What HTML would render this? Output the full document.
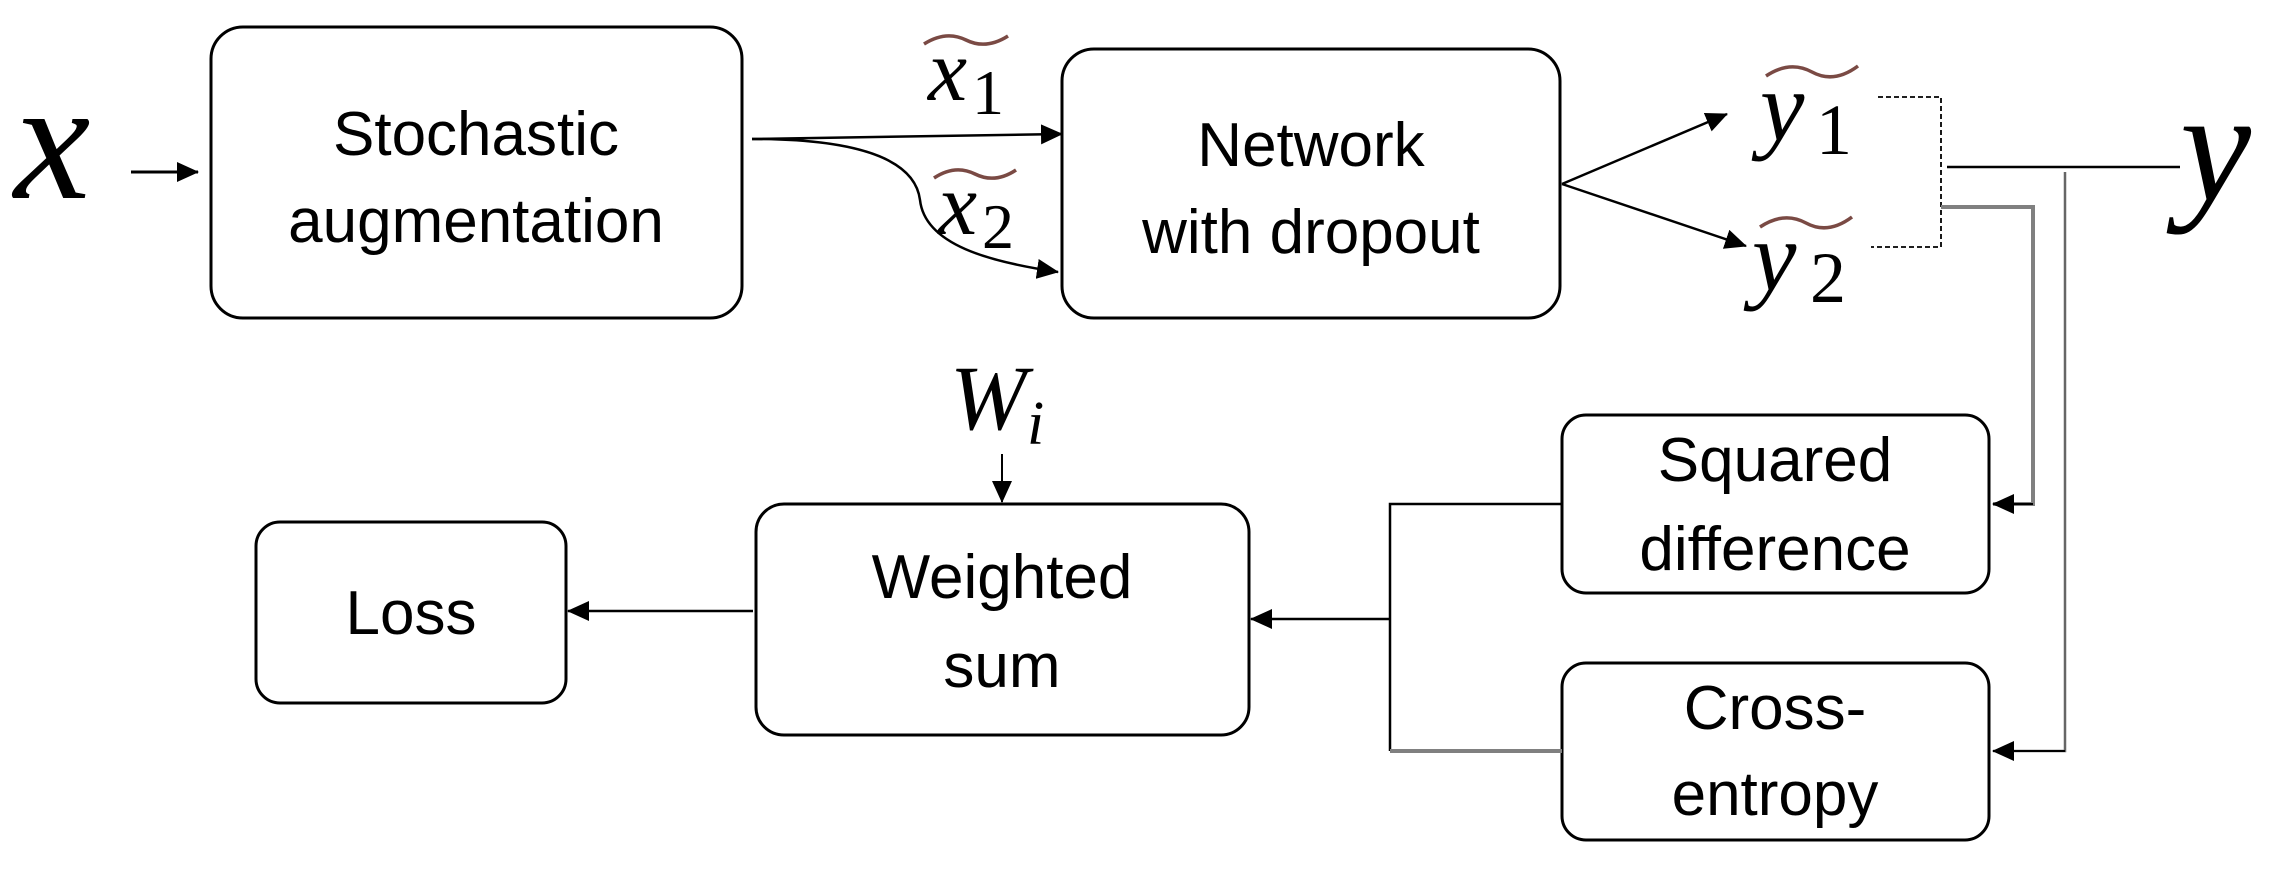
<!DOCTYPE html>
<html><head><meta charset="utf-8"><style>
html,body{margin:0;padding:0;background:#fff;}
svg{display:block;}
.t{font-family:"Liberation Sans",sans-serif;font-size:62px;fill:#000;text-anchor:middle;}
.m{font-family:"Liberation Serif",serif;font-style:italic;fill:#000;}
.s{font-family:"Liberation Serif",serif;fill:#000;}
</style></head><body>
<svg width="2279" height="874" viewBox="0 0 2279 874" xmlns="http://www.w3.org/2000/svg">
<defs>
<marker id="b" markerWidth="22" markerHeight="20" refX="21" refY="10" orient="auto" markerUnits="userSpaceOnUse" viewBox="0 0 22 20">
<path d="M0,0 L22,10 L0,20 z" fill="#000"/></marker>
</defs>
<g fill="none" stroke="#000" stroke-width="3">
<rect x="211" y="27" width="531" height="291" rx="32"/>
<rect x="1062" y="49" width="498" height="269" rx="32"/>
<rect x="256" y="522" width="310" height="181" rx="24"/>
<rect x="756" y="504" width="493" height="231" rx="28"/>
<rect x="1562" y="415" width="427" height="178" rx="24"/>
<rect x="1562" y="663" width="427" height="177" rx="24"/>
<line x1="131" y1="172" x2="198" y2="172" marker-end="url(#b)"/>
<line x1="752" y1="139" x2="1062" y2="134" marker-end="url(#b)" stroke-width="2.5"/>
<path d="M752,139 C860,139 915,160 920,200 C925,245 990,262 1058,272" marker-end="url(#b)" stroke-width="2.5"/>
<line x1="1562" y1="184" x2="1727" y2="114" marker-end="url(#b)" stroke-width="2.5"/>
<line x1="1562" y1="184" x2="1746" y2="246" marker-end="url(#b)" stroke-width="2.5"/>
<path d="M1878,97 H1941 V247 H1871" stroke-width="1.8" stroke-dasharray="5,3"/>
<line x1="1947" y1="167" x2="2180" y2="167" stroke-width="2.5"/>
<path d="M1941,207 H2033 V504 H1993" stroke="#808080" stroke-width="4"/>
<path d="M2033,504 H1993" marker-end="url(#b)" stroke-width="2"/>
<path d="M2065,172 V751 H1993" stroke="#666" stroke-width="2.5"/>
<path d="M2065,751 H1993" marker-end="url(#b)" stroke-width="2"/>
<path d="M1562,504 H1390 V751" stroke-width="2.5"/>
<path d="M1390,751 H1562" stroke="#808080" stroke-width="4"/>
<line x1="1390" y1="619" x2="1251" y2="619" marker-end="url(#b)" stroke-width="2.5"/>
<line x1="1002" y1="454" x2="1002" y2="502" marker-end="url(#b)" stroke-width="2"/>
<line x1="753" y1="611" x2="568" y2="611" marker-end="url(#b)" stroke-width="2.5"/>
</g>
<g fill="none" stroke="#7a4a44" stroke-width="3.5">
<path d="M924,44 Q946,30 966,40 T1008,36"/>
<path d="M934,178 Q955,164 975,174 T1016,170"/>
<path d="M1766,76 Q1790,60 1812,72 T1858,66"/>
<path d="M1760,227 Q1784,211 1806,223 T1852,217"/>
</g>
<text class="t" x="476" y="155">Stochastic</text>
<text class="t" x="476" y="242">augmentation</text>
<text class="t" x="1311" y="166">Network</text>
<text class="t" x="1311" y="253">with dropout</text>
<text class="t" x="1775" y="481">Squared</text>
<text class="t" x="1775" y="570">difference</text>
<text class="t" x="1775" y="729">Cross-</text>
<text class="t" x="1775" y="815">entropy</text>
<text class="t" x="1002" y="598">Weighted</text>
<text class="t" x="1002" y="687">sum</text>
<text class="t" x="411" y="634">Loss</text>
<text class="m" x="14" y="198" font-size="172">x</text>
<text class="m" x="928" y="100" font-size="88">x</text><text class="s" x="972" y="114" font-size="64">1</text>
<text class="m" x="938" y="234" font-size="88">x</text><text class="s" x="982" y="248" font-size="64">2</text>
<text class="m" x="1760" y="140" font-size="100">y</text><text class="s" x="1816" y="154" font-size="72">1</text>
<text class="m" x="1752" y="290" font-size="100">y</text><text class="s" x="1810" y="302" font-size="72">2</text>
<text class="m" x="950" y="429" font-size="92">W</text><text class="m" x="1027" y="444" font-size="62">i</text>
<text class="m" x="2180" y="200" font-size="160">y</text>
</svg>
</body></html>
